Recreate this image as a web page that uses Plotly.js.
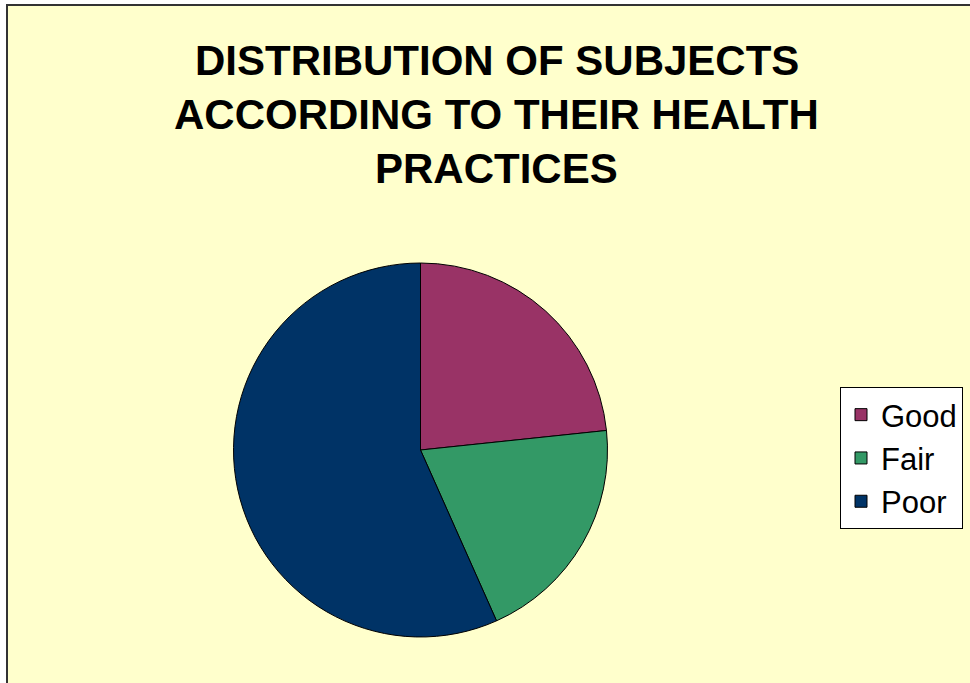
<!DOCTYPE html>
<html><head><meta charset="utf-8">
<script src="https://cdn.plot.ly/plotly-3.0.1.min.js"></script>
<style>html,body{margin:0;padding:0;background:#fff;}#chart{width:970px;height:683px;}</style>
</head><body><div id="chart"></div>
<script>
const categories = ["Good", "Fair", "Poor"];
const counts = [14, 12, 34];
const colors = ["#993366", "#339966", "#003366"];
const titleLines = ["DISTRIBUTION OF SUBJECTS", "ACCORDING TO THEIR HEALTH", "PRACTICES"];

const W = 970, H = 683;
const px = x => x / W, py = y => 1 - y / H;
const cx = 420.5, cy = 450, r = 187;

const trace = {
  type: "pie",
  labels: categories,
  values: counts,
  sort: false,
  direction: "clockwise",
  rotation: 0,
  textinfo: "none",
  hoverinfo: "label+percent",
  marker: {colors: colors, line: {color: "#000", width: 1}},
  domain: {x: [px(cx - r), px(cx + r)], y: [py(cy + r), py(cy - r)]}
};

const titleY = [60, 115, 168];
const annotations = titleLines.map((t, i) => ({
  text: "<b>" + t + "</b>", xref: "paper", yref: "paper",
  x: px(497), y: py(titleY[i]), xanchor: "center", yanchor: "middle",
  showarrow: false, font: {family: "Liberation Sans, Arial, sans-serif", size: 42, color: "#000"}
}));

const layout = {
  width: W, height: H,
  margin: {l: 0, r: 0, t: 0, b: 0},
  paper_bgcolor: "#ffffff",
  showlegend: true,
  legend: {
    x: px(840), y: py(387), xanchor: "left", yanchor: "top",
    bgcolor: "#ffffff", bordercolor: "#000", borderwidth: 1,
    font: {family: "Liberation Sans, Arial, sans-serif", size: 31, color: "#000"},
    traceorder: "normal"
  },
  shapes: [{
    type: "rect", xref: "paper", yref: "paper", layer: "below",
    x0: px(7), x1: px(1000), y0: py(5), y1: py(720),
    fillcolor: "#FFFFCC", line: {color: "#333", width: 2}
  }],
  annotations: annotations
};

Plotly.newPlot("chart", [trace], layout, {displayModeBar: false, staticPlot: true});
</script></body></html>
